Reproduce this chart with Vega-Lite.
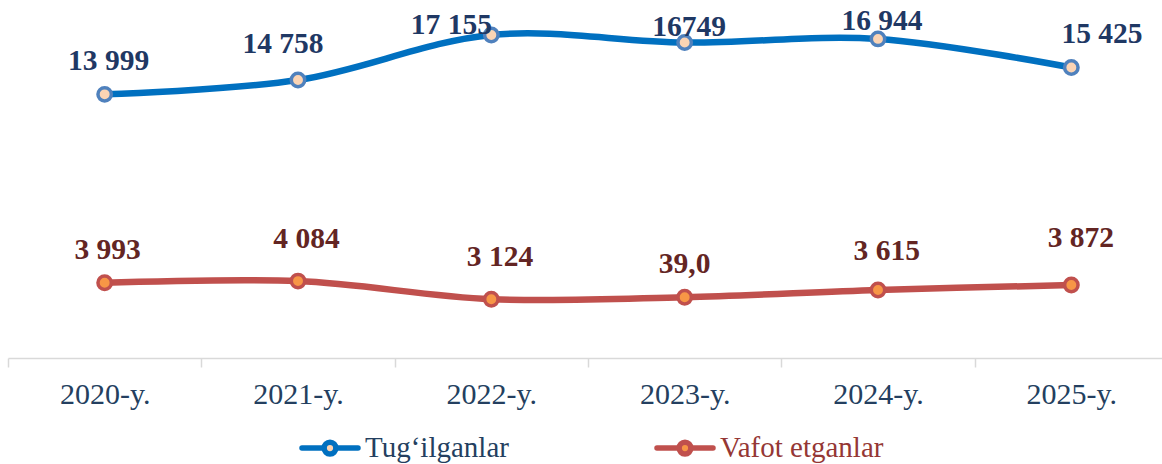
{
  "$schema": "https://vega.github.io/schema/vega-lite/v6.json",
  "width": 1154,
  "height": 358,
  "autosize": {"type": "none"},
  "padding": {"left": 8, "top": 0, "right": 0, "bottom": 106},
  "background": "white",
  "config": {"view": {"stroke": null}},
  "data": {
    "values": [
      {"year": "2020-y.", "series": "Tug‘ilganlar", "value": 13999, "label": "13 999"},
      {"year": "2021-y.", "series": "Tug‘ilganlar", "value": 14758, "label": "14 758"},
      {"year": "2022-y.", "series": "Tug‘ilganlar", "value": 17155, "label": "17 155"},
      {"year": "2023-y.", "series": "Tug‘ilganlar", "value": 16749, "label": "16749"},
      {"year": "2024-y.", "series": "Tug‘ilganlar", "value": 16944, "label": "16 944"},
      {"year": "2025-y.", "series": "Tug‘ilganlar", "value": 15425, "label": "15 425"},
      {"year": "2020-y.", "series": "Vafot etganlar", "value": 3993, "label": "3 993"},
      {"year": "2021-y.", "series": "Vafot etganlar", "value": 4084, "label": "4 084"},
      {"year": "2022-y.", "series": "Vafot etganlar", "value": 3124, "label": "3 124"},
      {"year": "2023-y.", "series": "Vafot etganlar", "value": 3230, "label": "39,0"},
      {"year": "2024-y.", "series": "Vafot etganlar", "value": 3615, "label": "3 615"},
      {"year": "2025-y.", "series": "Vafot etganlar", "value": 3872, "label": "3 872"}
    ]
  },
  "encoding": {
    "x": {
      "field": "year",
      "type": "nominal",
      "sort": null,
      "scale": {"type": "band", "paddingInner": 0, "paddingOuter": 0, "range": [0, 1160]},
      "axis": {
        "title": null,
        "labelAngle": 0,
        "labelFont": "Liberation Serif",
        "labelFontSize": 30,
        "labelColor": "#243F60",
        "labelBaseline": "alphabetic",
        "labelPadding": 36,
        "labelOverlap": false,
        "labelLimit": 0,
        "tickBand": "extent",
        "tickSize": 9,
        "tickColor": "#D9D9D9",
        "tickWidth": 1.5,
        "domainColor": "#D9D9D9",
        "domainWidth": 1.5,
        "grid": false
      }
    },
    "y": {
      "field": "value",
      "type": "quantitative",
      "scale": {"domain": [0, 19010], "nice": false, "zero": true},
      "axis": null
    }
  },
  "layer": [
    {
      "mark": {"type": "line", "interpolate": "catmull-rom", "strokeWidth": 6.5},
      "encoding": {
        "color": {
          "field": "series",
          "type": "nominal",
          "scale": {"domain": ["Tug‘ilganlar", "Vafot etganlar"], "range": ["#0070C0", "#C0504D"]},
          "legend": {
            "title": null,
            "orient": "none",
            "legendX": 291,
            "legendY": 417,
            "direction": "horizontal",
            "symbolType": "M-1,0H-0.21M0.21,0H1M-0.21,0A0.21,0.21,0,1,1,0.21,0A0.21,0.21,0,1,1,-0.21,0",
            "symbolSize": 3136,
            "symbolStrokeWidth": 5.5,
            "labelFont": "Liberation Serif",
            "labelFontSize": 29,
            "labelOffset": 4,
            "columnPadding": 137,
            "padding": 0,
            "labelLimit": 0,
            "encode": {
              "symbols": {
                "update": {
                  "fill": {"signal": "datum.value === 'Vafot etganlar' ? '#F79646' : '#FBD4B4'"},
                  "strokeCap": {"value": "round"},
                  "opacity": {"value": 1}
                }
              },
              "labels": {
                "update": {
                  "fill": {"signal": "datum.value === 'Vafot etganlar' ? '#953735' : '#243F60'"}
                }
              }
            }
          }
        }
      }
    },
    {
      "mark": {
        "type": "point",
        "filled": true,
        "size": 180,
        "strokeWidth": 3.5,
        "opacity": 1,
        "fill": {"expr": "datum.series === 'Vafot etganlar' ? '#F79646' : '#FBD4B4'"},
        "stroke": {"expr": "datum.series === 'Vafot etganlar' ? '#C0504D' : '#4F81BD'"}
      },
      "encoding": {"detail": {"field": "series", "type": "nominal"}}
    },
    {
      "mark": {
        "type": "text",
        "font": "Liberation Serif",
        "fontSize": 29.5,
        "fontWeight": "bold",
        "baseline": "alphabetic",
        "align": "center",
        "dx": {"expr": "datum.series === 'Vafot etganlar' ? [3, 8.5, 8.7, 0, 8.7, 9.5][parseInt(datum.year) - 2020] : [4, -15, -40, 4.5, 4, 30.7][parseInt(datum.year) - 2020]"},
        "dy": {"expr": "datum.series === 'Vafot etganlar' ? [-23.4, -32.7, -33.3, -24, -30, -38.3][parseInt(datum.year) - 2020] : [-24.3, -27, -1, -7, -9.3, -25][parseInt(datum.year) - 2020]"},
        "fill": {"expr": "datum.series === 'Vafot etganlar' ? '#632523' : '#1F3864'"}
      },
      "encoding": {"text": {"field": "label", "type": "nominal"}}
    }
  ]
}
